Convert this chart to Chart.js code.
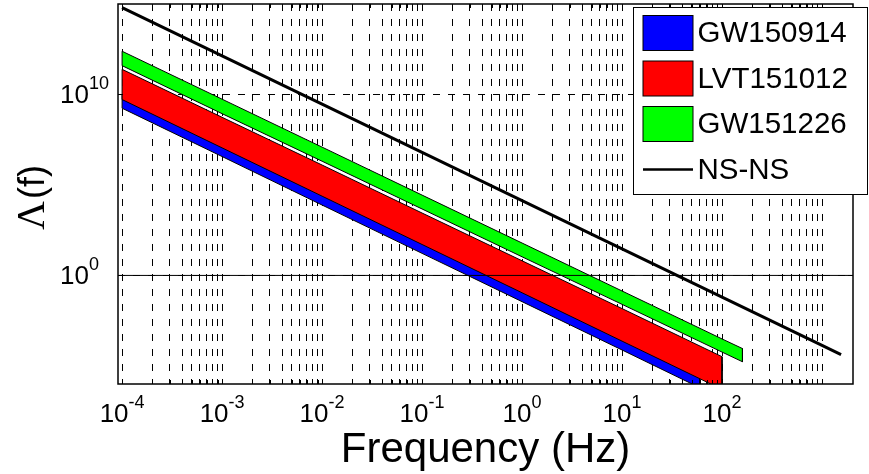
<!DOCTYPE html>
<html>
<head>
<meta charset="utf-8">
<script src="https://cdn.jsdelivr.net/npm/chart.js@4.4.1/dist/chart.umd.min.js"></script>
<style>
  html, body { margin: 0; padding: 0; background: #fff; }
  canvas { display: block; }
</style>
</head>
<body>
<canvas id="chart" width="869" height="474"></canvas>
<script>
// Frequency (Hz) and upper / lower Λ(f) bounds for each event band
const freqGW150914  = [1e-4, 1e-3, 1e-2, 1e-1, 1, 10, 60];
const upperGW150914 = [9.33e9, 2.0e7, 4.27e4, 91.2, 0.195, 4.17e-4, 3.55e-6];
const lowerGW150914 = [1.74e9, 3.72e6, 7.76e3, 16.6, 0.0355, 7.59e-5, 6.2e-7];

const freqLVT151012  = [1e-4, 1e-3, 1e-2, 1e-1, 1, 10, 100];
const upperLVT151012 = [2.45e11, 5.48e8, 1.26e6, 2.81e3, 6.44, 0.0147, 3.23e-5];
const lowerLVT151012 = [5.25e9, 1.12e7, 2.40e4, 51.3, 0.110, 2.34e-4, 5.0e-7];

const freqGW151226  = [1e-4, 1e-3, 1e-2, 1e-1, 1, 10, 100, 160];
const upperGW151226 = [2.45e12, 5.5e9, 1.23e7, 2.75e4, 61.7, 0.138, 3.09e-4, 9.1e-5];
const lowerGW151226 = [3.9e11, 8.7e8, 2.05e6, 4.7e3, 10.7, 0.0252, 5.8e-5, 1.7e-5];

// Neutron-star binary curve
const freqNSNS   = [1e-4, 1e-3, 1e-2, 1e-1, 1, 10, 100, 1000, 1550];
const lambdaNSNS = [6.31e14, 1.35e12, 2.95e9, 6.31e6, 1.35e4, 29.5, 0.063, 1.35e-4, 4.17e-5];

// Horizontal reference level Λ = 1
const referenceLambda = 1;

// Axis limits and tick labels (as powers of ten)
const X_MIN = 9.1e-5, X_MAX = 2040;
const Y_MIN = 1e-6,   Y_MAX = 1e15;
const xLabelExponents = [-4, -3, -2, -1, 0, 1, 2];
const yLabelExponents = [0, 10];
const yGridValues = [1, 1e10];

// grid at every 1..9 x 10^k between 1e-4 and 1e3
const xGridValues = [];
for (let k = -4; k <= 3; k++) {
  for (let m = 1; m <= 9; m++) {
    const v = m * Math.pow(10, k);
    if (v <= 1000.0001) xGridValues.push(v);
  }
}

// closed outline: upper edge left->right, lower edge right->left
function band(freq, upper, lower) {
  const pts = freq.map((f, i) => ({ x: f, y: upper[i] }));
  for (let i = freq.length - 1; i >= 0; i--) pts.push({ x: freq[i], y: lower[i] });
  pts.push({ x: freq[0], y: upper[0] });
  return pts;
}

const SANS = '"Liberation Sans", Arial, Helvetica, sans-serif';

function drawPower(ctx, exp, x, baseY, centered) {
  ctx.font = '26px ' + SANS;
  const wb = ctx.measureText('10').width;
  const sup = String(exp);
  ctx.font = '18px ' + SANS;
  const ws = ctx.measureText(sup).width;
  const left = centered ? x - (wb + ws) / 2 : x;
  ctx.textAlign = 'left';
  ctx.textBaseline = 'alphabetic';
  ctx.font = '26px ' + SANS;
  ctx.fillText('10', left, baseY);
  ctx.font = '18px ' + SANS;
  ctx.fillText(sup, left + wb, baseY - 14);
}

const decorations = {
  id: 'decorations',
  afterDraw(chart) {
    const { ctx, chartArea: a, scales: { x, y } } = chart;
    ctx.save();
    ctx.fillStyle = '#000';
    ctx.strokeStyle = '#000';

    // inner tick marks on bottom and top edges
    ctx.lineWidth = 1;
    ctx.beginPath();
    for (const v of xGridValues) {
      const px = Math.round(x.getPixelForValue(v)) + 0.5;
      ctx.moveTo(px, a.bottom); ctx.lineTo(px, a.bottom - 4);
      ctx.moveTo(px, a.top); ctx.lineTo(px, a.top + 4);
    }
    for (const v of yGridValues) {
      const py = Math.round(y.getPixelForValue(v)) + 0.5;
      ctx.moveTo(a.left, py); ctx.lineTo(a.left + 5, py);
      ctx.moveTo(a.right, py); ctx.lineTo(a.right - 5, py);
    }
    ctx.stroke();

    // axes box
    ctx.lineWidth = 1.5;
    ctx.strokeRect(a.left, a.top, a.right - a.left, a.bottom - a.top);

    // tick labels
    for (const e of xLabelExponents) {
      drawPower(ctx, e, x.getPixelForValue(Math.pow(10, e)), a.bottom + 38, true);
    }
    for (const e of yLabelExponents) {
      drawPower(ctx, e, a.left - 58, y.getPixelForValue(Math.pow(10, e)) + 9, false);
    }

    // axis titles
    ctx.textAlign = 'center';
    ctx.textBaseline = 'alphabetic';
    ctx.font = '42px ' + SANS;
    ctx.fillText('Frequency (Hz)', (a.left + a.right) / 2, 462);

    ctx.save();
    ctx.translate(44, (a.top + a.bottom) / 2 + 36);
    ctx.rotate(-Math.PI / 2);
    ctx.textAlign = 'left';
    ctx.font = '40px "Liberation Serif", "Times New Roman", serif';
    ctx.fillText('Λ', 0, 0);
    const wl = ctx.measureText('Λ').width;
    ctx.font = '36px ' + SANS;
    ctx.fillText('(f)', wl + 2, 0);
    ctx.restore();

    // legend
    const lx = a.right - 219.5, ly = a.top + 3.5, lw = 234, lh = 187;
    ctx.fillStyle = '#fff';
    ctx.fillRect(lx, ly, lw, lh);
    ctx.lineWidth = 1;
    ctx.strokeStyle = '#000';
    ctx.strokeRect(lx, ly, lw, lh);
    const items = chart.data.datasets.filter(d => d.legend);
    items.forEach((d, i) => {
      const top = ly + 8 + i * 45.5;
      const cy = top + 17.5;
      if (d.legend === 'box') {
        ctx.fillStyle = d.backgroundColor;
        ctx.fillRect(lx + 9.5, top, 50, 35);
        ctx.strokeRect(lx + 9.5, top, 50, 35);
      } else {
        ctx.lineWidth = 2.5;
        ctx.beginPath();
        ctx.moveTo(lx + 9.5, cy); ctx.lineTo(lx + 59.5, cy);
        ctx.stroke();
        ctx.lineWidth = 1;
      }
      ctx.fillStyle = '#000';
      ctx.font = '29.5px ' + SANS;
      ctx.textAlign = 'left';
      ctx.textBaseline = 'middle';
      ctx.fillText(d.label, lx + 64, cy + 1);
    });
    ctx.restore();
  }
};

new Chart(document.getElementById('chart'), {
  type: 'line',
  data: {
    datasets: [
      {
        label: 'GW150914', legend: 'box', order: 5,
        data: band(freqGW150914, upperGW150914, lowerGW150914),
        backgroundColor: '#0000ff', borderColor: '#000', borderWidth: 1, fill: 'shape'
      },
      {
        label: 'LVT151012', legend: 'box', order: 4,
        data: band(freqLVT151012, upperLVT151012, lowerLVT151012),
        backgroundColor: '#ff0000', borderColor: '#000', borderWidth: 1, fill: 'shape'
      },
      {
        label: 'GW151226', legend: 'box', order: 3,
        data: band(freqGW151226, upperGW151226, lowerGW151226),
        backgroundColor: '#00ff00', borderColor: '#000', borderWidth: 1, fill: 'shape'
      },
      {
        label: 'reference', order: 2,
        data: [{ x: X_MIN, y: referenceLambda }, { x: X_MAX, y: referenceLambda }],
        borderColor: '#000', borderWidth: 1, fill: false
      },
      {
        label: 'NS-NS', legend: 'line', order: 1,
        data: freqNSNS.map((f, i) => ({ x: f, y: lambdaNSNS[i] })),
        borderColor: '#000', borderWidth: 3, fill: false
      }
    ]
  },
  options: {
    responsive: false,
    animation: false,
    layout: { padding: { top: 4, right: 16, left: 0, bottom: 0 } },
    plugins: { legend: { display: false }, tooltip: { enabled: false } },
    elements: { point: { radius: 0 }, line: { tension: 0 } },
    scales: {
      x: {
        type: 'logarithmic', min: X_MIN, max: X_MAX,
        afterBuildTicks: s => { s.ticks = xGridValues.map(v => ({ value: v })); },
        afterFit: s => { s.height = 90; },
        ticks: { display: false },
        grid: { color: '#000', lineWidth: 1, drawTicks: false },
        border: { display: false, dash: [7, 8] }
      },
      y: {
        type: 'logarithmic', min: Y_MIN, max: Y_MAX,
        afterBuildTicks: s => { s.ticks = yGridValues.map(v => ({ value: v })); },
        afterFit: s => { s.width = 118; },
        ticks: { display: false },
        grid: { color: '#000', lineWidth: 1, drawTicks: false },
        border: { display: false, dash: [7, 8] }
      }
    }
  },
  plugins: [decorations]
});
</script>
</body>
</html>
